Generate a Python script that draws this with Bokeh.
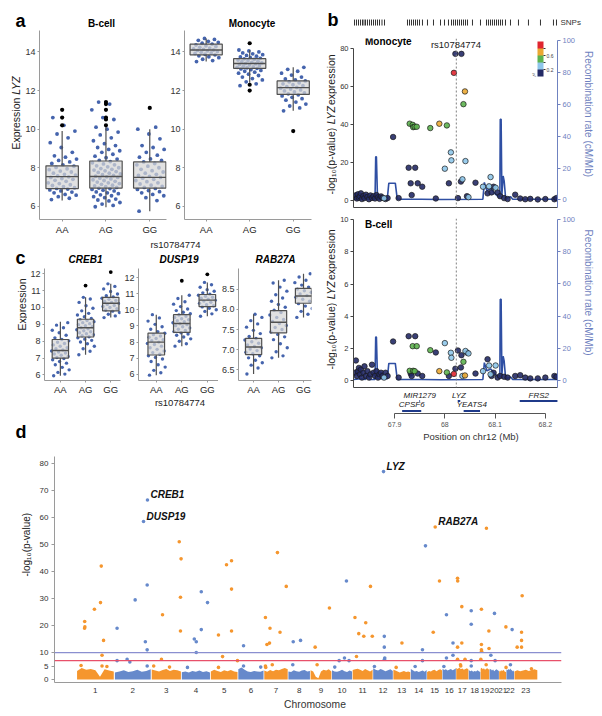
import math
from bokeh.plotting import figure
from bokeh.models import (Label, LinearAxis, Range1d, FixedTicker, Span, ColorBar,
                          LinearColorMapper, NumeralTickFormatter)
from bokeh.layouts import row, column
from bokeh.embed import file_html
from bokeh.resources import INLINE
from bokeh.core.properties import value

FONT = "Liberation Sans"

# ---------------------------------------------------------------- data
GENOTYPES = ["AA", "AG", "GG"]

# panel a : LYZ expression (low whisker, q1, median, q3, high whisker)
BCELL_BOX = [(6.30, 6.92, 7.54, 8.10, 9.90), (5.95, 6.95, 7.55, 8.35, 10.10), (5.75, 6.95, 7.50, 8.30, 10.00)]
BCELL_AA = [6.35, 6.42, 6.5, 6.58, 6.62, 6.7, 6.74, 6.8, 6.85, 6.9, 6.93, 6.97, 7.02, 7.08, 7.12, 7.18, 7.22, 7.3,
            7.35, 7.4, 7.44, 7.5, 7.53, 7.58, 7.62, 7.66, 7.72, 7.78, 7.83, 7.9, 7.95, 8.02, 8.08, 8.15, 8.22, 8.3,
            8.38, 8.45, 8.55, 8.62, 8.8, 9.05, 9.3, 9.55, 9.75, 9.9, 10.2, 10.6]
BCELL_AG = [5.98, 6.05, 6.12, 6.2, 6.28, 6.33, 6.38, 6.45, 6.5, 6.55, 6.6, 6.66, 6.7, 6.75, 6.8, 6.84, 6.88, 6.92,
            6.95, 6.98, 7.02, 7.06, 7.1, 7.14, 7.18, 7.22, 7.26, 7.3, 7.34, 7.38, 7.42, 7.46, 7.5, 7.53, 7.56, 7.6,
            7.64, 7.68, 7.72, 7.76, 7.8, 7.84, 7.88, 7.92, 7.96, 8.0, 8.05, 8.1, 8.15, 8.2, 8.26, 8.32, 8.38, 8.45,
            8.52, 8.6, 8.7, 8.8, 8.88, 8.95, 9.05, 9.15, 9.25, 9.4, 9.55, 9.7, 9.85, 10.0, 10.1, 10.5, 10.6, 11.0,
            11.3, 11.4]
BCELL_GG = [5.75, 6.3, 6.45, 6.55, 6.62, 6.7, 6.76, 6.82, 6.88, 6.93, 6.98, 7.04, 7.1, 7.16, 7.22, 7.28, 7.34, 7.4,
            7.46, 7.5, 7.55, 7.6, 7.66, 7.72, 7.78, 7.85, 7.92, 8.0, 8.08, 8.15, 8.22, 8.3, 8.38, 8.46, 8.55, 8.65,
            8.8, 8.95, 9.05, 9.15, 9.5, 9.75, 10.0, 10.1]
BCELL_OUT = [[10.2, 10.6, 11.0], [10.2, 10.5, 10.6, 11.0, 11.3, 11.4], [11.1]]

MONO_BOX = [(13.50, 13.85, 14.10, 14.40, 14.70), (12.40, 13.15, 13.40, 13.65, 14.10), (10.95, 11.80, 12.15, 12.50, 13.20)]
MONO_AA = [13.5, 13.55, 13.62, 13.7, 13.75, 13.8, 13.85, 13.88, 13.92, 13.95, 13.98, 14.02, 14.05, 14.08, 14.1,
           14.13, 14.16, 14.2, 14.24, 14.28, 14.32, 14.36, 14.4, 14.45, 14.5, 14.55, 14.6, 14.65, 14.7]
MONO_AG = [12.25, 12.35, 12.45, 12.55, 12.62, 12.7, 12.78, 12.85, 12.9, 12.95, 13.0, 13.04, 13.08, 13.12, 13.15,
           13.18, 13.2, 13.23, 13.26, 13.29, 13.32, 13.35, 13.38, 13.4, 13.43, 13.46, 13.49, 13.52, 13.55, 13.58,
           13.61, 13.64, 13.67, 13.7, 13.74, 13.78, 13.82, 13.86, 13.9, 13.95, 14.0, 14.05, 14.1]
MONO_GG = [10.95, 11.1, 11.2, 11.3, 11.4, 11.5, 11.58, 11.65, 11.72, 11.78, 11.83, 11.88, 11.93, 11.98, 12.03,
           12.08, 12.12, 12.16, 12.2, 12.25, 12.3, 12.35, 12.4, 12.45, 12.5, 12.55, 12.6, 12.7, 12.8, 12.9, 13.0,
           13.1, 13.2]
MONO_OUT = [[], [14.45, 12.3, 12.0], [9.9]]

# panel c : trans genes
CREB1_BOX = [(5.95, 7.00, 7.45, 8.10, 9.15), (7.20, 8.25, 8.80, 9.30, 10.60), (9.40, 9.80, 10.25, 10.60, 11.40)]
CREB1_AA = [5.95, 6.05, 6.15, 6.3, 6.45, 6.6, 6.7, 6.8, 6.9, 6.97, 7.03, 7.1, 7.17, 7.24, 7.3, 7.36, 7.42, 7.48,
            7.55, 7.62, 7.7, 7.78, 7.86, 7.94, 8.02, 8.1, 8.2, 8.35, 8.5, 8.65, 8.8, 8.95, 9.1]
CREB1_AG = [7.2, 7.4, 7.55, 7.7, 7.85, 7.95, 8.05, 8.12, 8.2, 8.26, 8.32, 8.38, 8.44, 8.5, 8.56, 8.62, 8.68, 8.74,
            8.8, 8.86, 8.92, 8.98, 9.04, 9.1, 9.16, 9.22, 9.28, 9.35, 9.45, 9.55, 9.65, 9.8, 9.95, 10.1, 10.3, 10.5,
            10.6]
CREB1_GG = [9.4, 9.5, 9.6, 9.7, 9.78, 9.85, 9.92, 10.0, 10.06, 10.12, 10.18, 10.24, 10.3, 10.36, 10.42, 10.48,
            10.55, 10.62, 10.7, 10.8, 10.95, 11.1, 11.25, 11.4]
CREB1_OUT = [[], [11.3], [12.1]]

DUSP19_BOX = [(5.95, 7.20, 8.00, 8.55, 9.70), (7.75, 8.60, 9.15, 9.70, 10.90), (9.60, 10.20, 10.60, 10.95, 11.70)]
DUSP19_AA = [5.95, 6.1, 6.25, 6.45, 6.6, 6.8, 6.95, 7.05, 7.15, 7.25, 7.35, 7.45, 7.55, 7.65, 7.75, 7.85, 7.92,
             8.0, 8.08, 8.15, 8.22, 8.3, 8.38, 8.46, 8.55, 8.65, 8.8, 8.95, 9.1, 9.3, 9.5, 9.7]
DUSP19_AG = [7.75, 7.9, 8.05, 8.2, 8.32, 8.42, 8.5, 8.58, 8.65, 8.72, 8.8, 8.88, 8.95, 9.02, 9.08, 9.14, 9.2, 9.26,
             9.32, 9.38, 9.45, 9.52, 9.6, 9.68, 9.76, 9.85, 9.95, 10.05, 10.2, 10.35, 10.5, 10.7, 10.9]
DUSP19_GG = [9.6, 9.75, 9.9, 10.0, 10.1, 10.18, 10.25, 10.32, 10.4, 10.47, 10.54, 10.6, 10.66, 10.72, 10.78, 10.84,
             10.9, 10.97, 11.05, 11.15, 11.25, 11.4, 11.55, 11.7]
DUSP19_OUT = [[], [11.8], [12.2]]

RAB27A_BOX = [(6.40, 6.88, 7.07, 7.28, 7.88), (6.80, 7.42, 7.68, 7.97, 8.72), (7.80, 8.15, 8.33, 8.52, 8.88)]
RAB27A_AA = [6.4, 6.55, 6.62, 6.68, 6.74, 6.8, 6.85, 6.9, 6.94, 6.98, 7.02, 7.05, 7.08, 7.12, 7.16, 7.2, 7.24,
             7.28, 7.33, 7.4, 7.48, 7.56, 7.64, 7.72, 7.8, 7.88]
RAB27A_AG = [6.8, 6.85, 6.95, 7.05, 7.15, 7.25, 7.32, 7.38, 7.44, 7.5, 7.55, 7.6, 7.65, 7.7, 7.75, 7.8, 7.86, 7.92,
             7.98, 8.05, 8.12, 8.2, 8.28, 8.36, 8.45, 8.55, 8.65, 8.72]
RAB27A_GG = [7.8, 7.88, 7.95, 8.02, 8.08, 8.14, 8.2, 8.25, 8.3, 8.34, 8.38, 8.42, 8.46, 8.5, 8.55, 8.6, 8.66, 8.72,
             8.8, 8.88]
RAB27A_OUT = [[], [], []]

# panel b : regional association around LYZ (chr12, Mb)
LEAD_SNP = "rs10784774"
LEAD_POS = 68.0228
SNP_POS = [67.821, 67.823, 67.825, 67.827, 67.829, 67.831, 67.833, 67.835, 67.838, 67.840, 67.843, 67.846, 67.849,
           67.852, 67.855, 67.858, 67.861, 67.864, 67.867, 67.870, 67.873, 67.876, 67.879, 67.882, 67.886,
           67.897, 67.908,
           67.928, 67.930, 67.932, 67.934, 67.936, 67.937, 67.940, 67.941, 67.944, 67.946,
           67.955, 67.971, 67.982, 67.989,
           68.000, 68.004, 68.008, 68.012, 68.013, 68.018, 68.021, 68.026, 68.033, 68.032, 68.035, 68.037, 68.040,
           68.041, 68.044, 68.047,
           68.061, 68.076, 68.085, 68.088, 68.091, 68.093, 68.097, 68.101,
           68.105, 68.110, 68.118, 68.125, 68.140, 68.150, 68.160, 68.170, 68.185, 68.200, 68.218, 68.222]
SNP_R2 = [0] * 22 + [1, 0, 0] + [0, 0] + [0, 2, 0, 0, 2, 2, 2, 0, 2, 0] + [0, 2, 0, 3] + \
         [1, 2, 0, 1, 1, 4, 0, 0, 0, 0, 1, 2, 3, 1, 0, 1] + [0, 1, 0, 1, 1, 0, 0, 1] + [0] * 12
SNP_MONO = [1.5, 2.5, 0.8, 3.0, 1.2, 2.0, 3.5, 0.5, 2.2, 1.0, 2.8, 1.6, 0.4, 2.4, 1.1, 2.0, 0.8, 2.6, 1.4, 0.6,
            1.9, 1.2, 0.9, 0.5, 1.0,
            33.2, 1.0,
            17.0, 40.2, 8.8, 2.6, 39.6, 38.4, 38.6, 17.0, 38.6, 8.8,
            7.0, 37.9, 0.8, 40.2,
            16.5, 39.3, 8.8, 25.1, 20.9, 67.0, 77.0, 1.0, 77.0, 9.7, 10.9, 50.5, 57.2, 20.5, 2.0, 1.5,
            9.1, 7.0, 3.5, 7.2, 12.1, 4.0, 7.0, 6.5,
            4.0, 2.0, 1.0, 0.5, 2.8, 0.8, 0.4, 0.6, 0.3, 0.5, 0.4, 1.0]
SNP_BCELL = [0.5, 1.26, 0.3, 0.6, 0.8, 0.4, 0.7, 0.2, 0.5, 0.9, 0.3, 0.6, 0.2, 0.4, 1.0, 0.5, 0.3, 0.6, 0.2, 0.4,
             0.5, 0.3, 0.2, 0.5, 0.3,
             2.44, 0.2,
             2.77, 0.62, 0.45, 0.3, 2.15, 0.62, 0.6, 2.77, 2.15, 0.45,
             0.3, 1.9, 1.76, 0.6,
             2.34, 0.52, 0.3, 1.74, 1.43, 0.43, 0.75, 1.88, 1.59, 0.83, 0.3, 1.18, 0.33, 1.85, 1.75, 1.7,
             0.45, 0.6, 1.34, 0.95, 0.4, 0.3, 0.5, 0.95,
             0.2, 0.3, 0.25, 0.2, 0.3, 0.35, 0.2, 0.15, 0.15, 0.2, 0.3, 0.25]
R2_TICKS = [0.2, 0.4, 0.6, 0.8]
REC_POS = [67.818, 67.834, 67.842, 67.848, 67.850, 67.861, 67.8624, 67.8638, 67.866, 67.8855, 67.8885, 67.9014,
           67.9053, 67.953, 67.992, 68.0757, 68.0786, 68.0836, 68.0915, 68.0994, 68.107, 68.1095, 68.1103, 68.1120,
           68.1135, 68.1160, 68.118, 68.121, 68.131, 68.135, 68.225]
REC_RATE = [0.5, 1, 0.5, 4, 0.5, 0.5, 27, 27, 1, 1, 10.5, 10.5, 0.5, 0.5, 0.3, 0.5, 11, 6, 7, 4, 2, 2, 50.5, 50.5,
            3, 15, 12, 1, 2, 0.5, 0.5]
RUG_POS = [67.8222, 67.8261, 67.8301, 67.8341, 67.8380, 67.8410, 67.8440, 67.8479, 67.8519, 67.8558, 67.8598,
           67.8638, 67.8677, 67.8717, 67.8766, 67.8816, 67.9271, 67.9311, 67.9350, 67.9390, 67.9430, 67.9469,
           67.9509, 67.9568, 67.9667, 67.9786, 67.9925, 68.0004, 68.0083, 68.0143, 68.0183, 68.0222, 68.0262,
           68.0301, 68.0341, 68.0380, 68.0420, 68.0459, 68.0558, 68.0717, 68.0836, 68.0875, 68.0915, 68.0954,
           68.0994, 68.1034, 68.1073, 68.1113, 68.1152, 68.1212, 68.1311, 68.1469, 68.1667, 68.1905, 68.2162,
           68.2222]
GENE_NAMES = ["CPSF6", "MIR1279", "LYZ", "YEATS4", "FRS2"]
GENE_START = [67.915, 67.9493, 68.0256, 68.0374, 68.149]
GENE_END = [67.953, 67.9507, 68.0307, 68.0700, 68.225]
GENE_ROW = [2, 1, 1, 2, 1]
POS_TICKS = [67.9, 68.0, 68.1, 68.2]

# panel d : genome-wide trans-eQTL (Mb)
CHR_LEN = [249, 243, 198, 191, 181, 171, 159, 146, 141, 136, 135, 133, 115, 107, 102, 90, 83, 78, 59, 63, 48, 51, 155]
CHR_BULK = [
    [3.2, 4.3, 3.6, 3.9, 3.4, 1.0, 3.8, 3.3, 3.0], [2.6, 3.0, 3.4, 2.8, 3.1, 3.6, 2.9, 3.2, 3.8],
    [3.7, 3.3, 3.0, 3.5, 3.9, 3.2, 3.6, 3.4, 3.0], [2.7, 3.0, 2.6, 3.2, 2.9, 3.3, 2.8, 3.1, 2.6],
    [3.0, 3.6, 3.2, 2.8, 3.4, 3.1, 3.5, 3.0, 2.8], [3.8, 4.5, 3.6, 3.0, 2.8, 3.2, 3.0, 2.9, 3.3],
    [3.3, 2.9, 3.5, 3.1, 3.6, 3.4, 3.9, 4.3, 3.8], [3.0, 2.8, 3.4, 3.1, 2.9, 3.3, 3.5, 3.0, 3.2],
    [3.4, 3.0, 1.0, 0.5, 3.0, 3.6, 3.3, 3.8, 3.0], [3.4, 3.0, 2.9, 3.2, 3.6, 3.1, 2.8, 3.3, 3.0],
    [3.5, 3.8, 4.0, 3.6, 3.2, 3.9, 3.4, 3.0, 3.6], [4.2, 3.6, 3.3, 3.9, 3.5, 3.1, 3.4, 3.8, 3.2],
    [3.6, 3.3, 3.0, 2.6, 2.9, 3.2, 2.8, 3.0, 2.7], [3.9, 3.4, 3.0, 3.2, 2.8, 3.1, 3.3, 2.9, 3.5],
    [2.8, 3.2, 3.0, 3.4, 3.6, 3.1, 3.5, 3.8, 3.3], [4.0, 3.5, 3.8, 3.3, 3.6, 3.9, 3.4, 3.7, 4.2],
    [4.3, 3.9, 4.5, 3.8, 4.1, 3.6, 3.9, 4.2, 3.7], [3.5, 3.1, 3.3, 2.9, 3.2, 3.0, 3.4, 3.1, 2.8],
    [4.0, 4.4, 3.8, 4.2, 3.6, 3.9, 4.3, 3.7, 4.0], [3.6, 3.9, 3.3, 3.7, 3.1, 3.5, 3.8, 3.4, 3.2],
    [2.9, 3.3, 3.0, 3.5, 3.2, 3.6, 3.1, 2.8, 3.0], [3.8, 3.4, 3.9, 3.5, 4.1, 3.6, 3.3, 3.0, 3.4],
    [3.0, 3.4, 3.1, 3.3, 3.6, 3.2, 3.5, 3.8, 3.4]]
HIT_CHR = [1, 1, 1, 1, 1, 1, 1, 1, 1, 1, 1,
           2, 2, 2, 2, 2, 2, 2, 2, 2,
           3, 3, 3, 3, 3, 3, 3, 3,
           4, 4, 4, 4, 4, 4, 4,
           5, 5, 5, 5, 5, 5, 5, 5,
           6, 6, 6,
           7, 7, 7, 7, 7, 7, 7, 7, 7, 7,
           8, 8, 8,
           9, 9, 9,
           10, 10, 10, 10, 10,
           11, 11, 11, 11, 11, 11, 11,
           12, 12, 12, 12, 12,
           13, 13,
           14, 14, 14, 14,
           15, 15,
           16, 16, 16, 16, 16,
           17, 17, 17, 17, 17, 17, 17, 17, 17,
           18, 18, 18, 18,
           19, 19, 19, 19, 19, 19, 19, 19, 19,
           20, 20, 20,
           21, 21,
           22, 22,
           23, 23, 23, 23, 23, 23]
HIT_POS = [53, 55, 54, 118, 158, 163, 178, 168, 168, 30, 200,
           18, 18, 84, 102, 137, 204, 216, 216, 216,
           74, 67, 16, 192, 192, 184, 196, 120,
           85, 98, 98, 131, 131, 172, 40,
           53, 53, 80, 106, 139, 139, 139, 178,
           37, 37, 150,
           10, 10, 12, 20, 37, 40, 55, 89, 106, 147,
           34, 82, 31,
           32, 45, 126,
           49, 84, 114, 97, 20,
           17, 27, 42, 88, 75, 119, 131,
           75, 75, 76, 78, 10,
           58, 20,
           78, 78, 98, 30,
           42, 83,
           27, 27, 70, 70, 10,
           10, 11, 10, 10, 38, 38, 29, 31, 59,
           17, 17, 17, 17,
           6, 6, 6, 7, 2, 37, 39, 55, 56,
           33, 9, 37,
           45, 46,
           38, 27,
           20, 49, 49, 49, 53, 114]
HIT_P = [19.0, 19.5, 21.5, 26.0, 28.5, 42.0, 14.5, 9.0, 5.0, 5.2, 4.8,
         19.0, 7.0, 7.5, 6.5, 29.5, 14.0, 35.0, 11.0, 5.0,
         24.0, 7.5, 5.0, 30.5, 18.0, 51.0, 44.7, 4.6,
         15.0, 14.0, 10.0, 32.5, 18.5, 28.5, 4.5,
         16.5, 4.5, 8.5, 42.5, 44.0, 33.5, 18.0, 7.0,
         12.5, 5.0, 4.6,
         23.0, 5.0, 4.5, 13.0, 13.5, 19.0, 5.5, 47.0, 17.5, 34.5,
         14.0, 14.5, 5.5,
         12.0, 5.5, 26.5,
         7.0, 8.0, 7.0, 36.5, 4.6,
         23.0, 8.5, 17.0, 21.0, 16.0, 34.5, 16.0,
         16.0, 12.0, 7.5, 8.0, 4.8,
         13.5, 4.5,
         11.0, 7.0, 49.5, 4.8,
         17.5, 36.5,
         24.0, 8.0, 13.5, 9.0, 4.8,
         37.5, 36.5, 12.0, 7.5, 27.0, 13.5, 5.5, 5.0, 7.5,
         25.5, 20.5, 7.0, 5.0,
         26.0, 13.0, 11.0, 10.5, 7.5, 5.5, 56.0, 18.0, 11.5,
         24.5, 9.0, 7.0,
         19.5, 4.5,
         18.5, 5.5,
         12.0, 17.5, 14.5, 12.0, 31.0, 4.0]
TOP_GENES = ["LYZ", "CREB1", "DUSP19", "RAB27A"]
TOP_CHR = [12, 2, 2, 15]
TOP_POS = [70, 218, 192, 55]
TOP_P = [77.0, 66.5, 58.5, 56.5]
THRESH_BLUE = 10
THRESH_RED = 7
D_YTICKS = [0, 5, 10, 20, 30, 40, 50, 60, 70, 80]

# ---------------------------------------------------------------- style
PT_BLUE = "#4564ad"
BOX_FILL = "#d6d6d6"
BOX_LINE = "#505050"
AX_GRAY = "#9a9a9a"
TXT = "#222222"
R2_COLORS = ["#232a66", "#8ec6ea", "#5db34f", "#eba832", "#e0252f"]
REC_COLOR = "#2f4fa3"
REC_AXIS = "#6f82c0"
ORANGE = "#F5962E"
BLUE = "#6689CB"
GENE_COLOR = "#1f3a8a"

AW = {' ': 278, '(': 333, ')': 333, '-': 333, '.': 278, '/': 278, ',': 278, '₁': 400, '₀': 400, '²': 333}
for ch in "0123456789":
    AW[ch] = 556
for ch, wv in zip("ABCDEFGHIJKLMNOPQRSTUVWXYZ",
                  [667, 667, 722, 722, 667, 611, 778, 722, 278, 500, 667, 556, 833, 722, 778, 667, 778, 722, 667,
                   611, 722, 667, 944, 667, 667, 611]):
    AW[ch] = wv
for ch, wv in zip("abcdefghijklmnopqrstuvwxyz",
                  [556, 556, 500, 556, 556, 278, 556, 556, 222, 222, 500, 222, 833, 556, 556, 556, 556, 333, 500,
                   278, 556, 500, 722, 500, 500, 500]):
    AW[ch] = wv


def tw(s, size):
    return sum(AW.get(c, 556) for c in s) * size / 1000.0


class Panel:
    """A figure placed at window coords (wx, wy) with its frame at [fl, fr] x [ft, fb]."""

    def __init__(self, wx, wy, w, h, fl=None, ft=None, fr=None, fb=None, xr=(0, 1), yr=(0, 1)):
        fl = wx if fl is None else fl
        ft = wy if ft is None else ft
        fr = wx + w if fr is None else fr
        fb = wy + h if fb is None else fb
        self.fl, self.fb = fl, fb
        self.p = figure(width=w, height=h, x_range=Range1d(*xr), y_range=Range1d(*yr),
                        x_axis_type=None, y_axis_type=None, output_backend="svg",
                        toolbar_location=None, title=None,
                        min_border_left=fl - wx, min_border_right=wx + w - fr,
                        min_border_top=ft - wy, min_border_bottom=wy + h - fb)
        self.p.outline_line_color = None
        self.p.background_fill_color = "white"
        self.p.border_fill_color = "white"

    def text(self, X, Y, s, size, style="normal", align="center", baseline="middle", angle=0.0, color=TXT):
        self.p.add_layout(Label(x=X - self.fl, y=self.fb - Y, x_units="screen", y_units="screen", text=s,
                                text_font=FONT, text_font_size=f"{size}px", text_font_style=style,
                                text_align=align, text_baseline=baseline, angle=angle, text_color=color))

    def vtext(self, X, Yc, parts, size, color=TXT, up=True):
        total = sum(tw(s, size) for s, _ in parts)
        if up:
            y = Yc + total / 2
            for s, st in parts:
                self.text(X, y, s, size, st, align="left", angle=math.pi / 2, color=color)
                y -= tw(s, size)
        else:
            y = Yc - total / 2
            for s, st in parts:
                self.text(X, y, s, size, st, align="left", angle=-math.pi / 2, color=color)
                y += tw(s, size)


def add_axis(p, side, ticks, fs, line_color, label_color, tick_out=2, standoff=2, overrides=None,
             bounds=None, rname=None, formatter=None):
    kw = dict(ticker=FixedTicker(ticks=ticks), axis_line_color=line_color, major_tick_line_color=line_color,
              minor_tick_line_color=None, major_tick_out=tick_out, major_tick_in=0,
              major_label_standoff=standoff, major_label_text_font=FONT,
              major_label_text_font_size=fs, major_label_text_color=label_color)
    if overrides:
        kw["major_label_overrides"] = overrides
    if bounds:
        kw["bounds"] = bounds
    if rname:
        kw["y_range_name"] = rname
    if formatter:
        kw["formatter"] = formatter
    p.add_layout(LinearAxis(**kw), side)


def jitter(n, w):
    return [((i * 0.6180339887 + 0.13) % 1.0 - 0.5) * 2 * w for i in range(n)]


def box_panel(P, boxes, pts, outs, bw, jw, psize, yticks, fmt=None, xstand=2):
    p = P.p
    xs_cat = [1, 2, 3]
    for gi in range(3):
        xj = [xs_cat[gi] + d for d in jitter(len(pts[gi]), jw)]
        p.scatter(xj, pts[gi], size=psize, fill_color=PT_BLUE, line_color=None)
    lw = [b[0] for b in boxes]
    q1 = [b[1] for b in boxes]
    md = [b[2] for b in boxes]
    q3 = [b[3] for b in boxes]
    uw = [b[4] for b in boxes]
    p.segment(xs_cat, q3, xs_cat, uw, line_color=BOX_LINE, line_width=1.2)
    p.segment(xs_cat, lw, xs_cat, q1, line_color=BOX_LINE, line_width=1.2)
    p.vbar(x=xs_cat, bottom=q1, top=q3, width=bw, fill_color=BOX_FILL, fill_alpha=0.72,
           line_color=BOX_LINE, line_width=1.2)
    p.segment([x - bw / 2 for x in xs_cat], md, [x + bw / 2 for x in xs_cat], md,
              line_color=BOX_LINE, line_width=1.4)
    ox, oy = [], []
    for gi in range(3):
        for v in outs[gi]:
            ox.append(xs_cat[gi])
            oy.append(v)
    if ox:
        p.scatter(ox, oy, size=psize + 0.4, fill_color="black", line_color=None)
    add_axis(p, "left", yticks, "9px", AX_GRAY, "#333333", formatter=fmt)
    add_axis(p, "below", xs_cat, "9.5px", AX_GRAY, "#222222", standoff=xstand,
             overrides={i + 1: g for i, g in enumerate(GENOTYPES)})


# ---------------------------------------------------------------- panel a
A_YR = (5.32, 15.11)
HA = Panel(8, 8, 310, 22)
HA.text(15, 20, "a", 18, "bold", align="left", baseline="alphabetic", color="black")
HA.text(101, 22.5, "B-cell", 10, "bold", color="black")
HA.text(251.5, 22.5, "Monocyte", 10, "bold", color="black")

YLA = Panel(8, 30, 14, 207)
YLA.vtext(15, 130, [("Expression ", "normal"), ("LYZ", "italic")], 10.5)

A1 = Panel(22, 30, 145, 207, 37, 30, 166, 221, (0.483, 3.382), A_YR)
box_panel(A1, BCELL_BOX, [BCELL_AA, BCELL_AG, BCELL_GG], BCELL_OUT, 0.74, 0.33, 3.8, [6, 8, 10, 12, 14])
A2 = Panel(167, 30, 151, 207, 182, 30, 311, 221, (0.502, 3.42), A_YR)
box_panel(A2, MONO_BOX, [MONO_AA, MONO_AG, MONO_GG], MONO_OUT, 0.74, 0.3, 3.8, [6, 8, 10, 12, 14])

SA = Panel(8, 237, 310, 11)
SA.text(175, 242.5, LEAD_SNP, 9.5)

# ---------------------------------------------------------------- panel c
HC = Panel(8, 248, 310, 20)
HC.text(15, 257, "c", 18, "bold", align="left", baseline="alphabetic", color="black")
HC.text(85, 259, "CREB1", 10, "bold italic", color="black")
HC.text(178.5, 259, "DUSP19", 10, "bold italic", color="black")
HC.text(275, 259, "RAB27A", 10, "bold italic", color="black")

YLC = Panel(8, 268, 19, 129)
YLC.vtext(21, 321, [("Expression", "normal")], 10.5)

C1 = Panel(27, 268, 94, 129, 42, 268, 120, 383, (0.37, 3.387), (5.67, 12.31))
box_panel(C1, CREB1_BOX, [CREB1_AA, CREB1_AG, CREB1_GG], CREB1_OUT, 0.65, 0.36, 3.4,
          [6, 7, 8, 9, 10, 11, 12], xstand=1)
C2 = Panel(121, 268, 97, 129, 137, 268, 218, 383, (0.304, 3.437), (5.62, 12.56))
box_panel(C2, DUSP19_BOX, [DUSP19_AA, DUSP19_AG, DUSP19_GG], DUSP19_OUT, 0.65, 0.36, 3.4,
          [6, 7, 8, 9, 10, 11, 12], xstand=1)
C3 = Panel(218, 268, 100, 129, 235, 268, 311, 383, (0.396, 3.32), (6.24, 9.01))
box_panel(C3, RAB27A_BOX, [RAB27A_AA, RAB27A_AG, RAB27A_GG], RAB27A_OUT, 0.65, 0.36, 3.4,
          [6.5, 7.0, 7.5, 8.0, 8.5], fmt=NumeralTickFormatter(format="0.0"), xstand=1)

SC = Panel(8, 397, 310, 51)
SC.text(179.5, 402, LEAD_SNP, 9.5)
SC.text(15, 431, "d", 18, "bold", align="left", baseline="alphabetic", color="black")

# ---------------------------------------------------------------- panel b
B_XR = (67.8182, 68.2242)
PX_MB = (B_XR[1] - B_XR[0]) / 205.0
B0 = Panel(318, 8, 276, 24, xr=(B_XR[0] - 34 * PX_MB, B_XR[1] + 37 * PX_MB))
B0.p.segment(RUG_POS, 0.29, RUG_POS, 0.54, line_color="#333333", line_width=1)
B0.text(327, 19.5, "b", 18, "bold", align="left", baseline="alphabetic", color="black")
B0.text(560, 21.5, "SNPs", 8, align="left", color="#333333")


def assoc_panel(P, vals, yticks, ytop, rrange):
    p = P.p
    p.extra_y_ranges = {"rec": Range1d(*rrange)}
    p.line(REC_POS, REC_RATE, y_range_name="rec", line_color=REC_COLOR, line_width=1.6)
    p.add_layout(Span(location=LEAD_POS, dimension="height", line_color="#808080", line_dash="2 2",
                      line_width=1))
    for cls in range(5):
        xs = [x for x, c in zip(SNP_POS, SNP_R2) if c == cls]
        ys = [v for v, c in zip(vals, SNP_R2) if c == cls]
        p.scatter(xs, ys, size=5.5, fill_color=R2_COLORS[cls], fill_alpha=0.9,
                  line_color="#1a1a1a", line_width=0.7)
    add_axis(p, "left", yticks, "7.5px", "#444444", "#333333", tick_out=3, standoff=2,
             bounds=(p.y_range.start, ytop))
    add_axis(p, "right", [0, 20, 40, 60, 80, 100], "7.5px", REC_AXIS, REC_AXIS, tick_out=3, standoff=2,
             rname="rec", bounds=(rrange[0], 100))
    add_axis(p, "below", [], "1px", "#444444", "#444444", tick_out=0, standoff=0)


YLB = Panel(318, 32, 19, 399)
YLB.vtext(330, 122.5, [("-log₁₀(p-value) ", "normal"), ("LYZ", "italic"), (" expression", "normal")], 10.5)
YLB.vtext(330, 297.5, [("-log₁₀(p-value) ", "normal"), ("LYZ", "italic"), (" expression", "normal")], 10.5)
YRB = Panel(582, 32, 12, 399)
YRB.vtext(587.5, 113.5, [("Recombination rate (cM/Mb)", "normal")], 10, color=REC_AXIS, up=False)
YRB.vtext(587.5, 292, [("Recombination rate (cM/Mb)", "normal")], 10, color=REC_AXIS, up=False)

B1 = Panel(337, 32, 245, 182, 352, 38, 557, 207, B_XR, (-3.95, 85.1))
assoc_panel(B1, SNP_MONO, [0, 20, 40, 60, 80], 80, (-4.7, 101.0))
B1.text(363.5, 41, "Monocyte", 10, "bold", align="left", color="black")
B1.text(454.5, 44, LEAD_SNP, 9.5)
mapper = LinearColorMapper(palette=R2_COLORS, low=0, high=1)
B1.p.add_layout(ColorBar(color_mapper=mapper, ticker=FixedTicker(ticks=R2_TICKS), width=6, height=35,
                         location=(175, 131), padding=0, title="r²", title_text_font_size="5px",
                         title_text_font=FONT, title_standoff=1, major_label_text_font_size="5px",
                         major_label_text_font=FONT, major_tick_out=2, major_tick_in=0,
                         major_tick_line_color="#333333", label_standoff=1, background_fill_color=None,
                         bar_line_color=None), "center")

B2 = Panel(337, 214, 245, 176, 352, 218, 557, 387, B_XR, (-0.416, 10.08))
assoc_panel(B2, SNP_BCELL, [0, 2, 4, 6, 8, 10], 10, (-4.49, 100.8))
B2.text(363.5, 223.5, "B-cell", 10, "bold", align="left", color="black")

B3 = Panel(337, 390, 245, 41, 352, 390, 557, 413, B_XR, (0, 1))
row_y = {1: 0.54, 2: 0.11}
gy = [row_y[r] for r in GENE_ROW]
B3.p.segment(GENE_START, gy, GENE_END, gy, line_color=GENE_COLOR, line_width=2)
B3.p.text(x=[(s + e) / 2 for s, e in zip(GENE_START, GENE_END)], y=gy, text=GENE_NAMES, y_offset=-1.5,
          text_font=value(FONT), text_font_style="italic", text_font_size="8px", text_align="center",
          text_baseline="bottom", text_color="#222222")
add_axis(B3.p, "below", POS_TICKS, "7px", "#555555", "#555555", tick_out=5, standoff=3,
         bounds=(POS_TICKS[0], POS_TICKS[-1]))

BT = Panel(318, 431, 276, 17)
BT.text(470.5, 436, "Position on chr12 (Mb)", 9.5, color="#333333")

# ---------------------------------------------------------------- panel d
starts = []
acc = 0
for L in CHR_LEN:
    starts.append(acc)
    acc += L
YLD = Panel(8, 448, 25, 249)
YLD.vtext(26, 559, [("-log₁₀(p-value)", "normal")], 10)
D = Panel(33, 448, 561, 249, 54, 456, 561, 682, (-144.7, 3190.8), (-1.1, 82.6))
p = D.p
for ci, L in enumerate(CHR_LEN):
    col = ORANGE if ci % 2 == 0 else BLUE
    h = CHR_BULK[ci]
    n = len(h)
    xs = [starts[ci] + L * (0.015 + 0.97 * k / (n - 1)) for k in range(n)]
    p.varea(x=xs, y1=0, y2=h, fill_color=col)
p.add_layout(Span(location=THRESH_BLUE, dimension="width", line_color="#8a8fd0", line_width=1.2))
p.add_layout(Span(location=THRESH_RED, dimension="width", line_color="#e8506a", line_width=1.2))
hx = [starts[c - 1] + pos for c, pos in zip(HIT_CHR, HIT_POS)]
hc = [ORANGE if c % 2 == 1 else BLUE for c in HIT_CHR]
p.scatter(hx, HIT_P, size=3.6, fill_color=hc, line_color=None)
tx = [starts[c - 1] + pos for c, pos in zip(TOP_CHR, TOP_POS)]
tc = [ORANGE if c % 2 == 1 else BLUE for c in TOP_CHR]
p.scatter(tx, TOP_P, size=3.6, fill_color=tc, line_color=None)
p.text(x=tx, y=TOP_P, text=TOP_GENES, x_offset=3, y_offset=-5, text_font=value(FONT),
       text_font_style="bold italic", text_font_size="10px", text_align="left", text_baseline="middle",
       text_color="#111111")
centers = [int(round(s + L / 2)) for s, L in zip(starts, CHR_LEN)]
add_axis(p, "left", D_YTICKS, "8px", AX_GRAY, "#333333", tick_out=3, standoff=3)
add_axis(p, "below", centers, "8px", AX_GRAY, "#333333", tick_out=0, standoff=5,
         overrides={c: str(i + 1) for i, c in enumerate(centers)})
CH = Panel(8, 697, 586, 11)
CH.text(314.5, 702.5, "Chromosome", 10.3, color="#333333")

# ---------------------------------------------------------------- layout
left = column(HA.p, row(YLA.p, A1.p, A2.p), SA.p, HC.p, row(YLC.p, C1.p, C2.p, C3.p), SC.p)
right = column(B0.p, row(YLB.p, column(B1.p, B2.p, B3.p), YRB.p), BT.p)
bottom = column(row(YLD.p, D.p), CH.p)
page = column(row(left, right), bottom, margin=(8, 0, 0, 8))
open("out.html", "w").write(file_html(page, INLINE))
